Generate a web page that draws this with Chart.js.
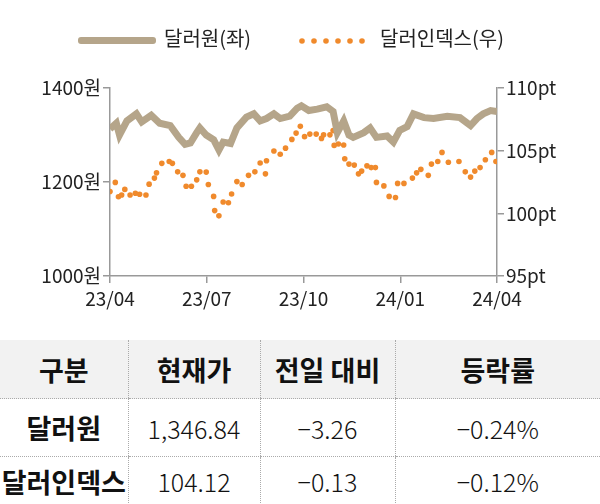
<!DOCTYPE html>
<html><head><meta charset="utf-8">
<script src="https://cdn.jsdelivr.net/npm/chart.js@4"></script>
<style>
body{margin:0;width:600px;height:504px;overflow:hidden;background:#fff;font-family:"Noto Sans CJK KR","Noto Sans",sans-serif;}
#wrap{position:absolute;left:0;top:0;width:600px;height:330px;}
#legend{position:absolute;top:21px;left:0;width:600px;height:34px;font-size:20px;color:#222;}
.li{position:absolute;top:0;line-height:34px;}
table{position:absolute;top:340px;left:0;width:600px;border-collapse:collapse;table-layout:fixed;}
td{text-align:center;border-left:1px dotted #aaa;border-bottom:1px dotted #aaa;padding:0;font-size:25px;color:#111;font-weight:300;}
td:first-child{border-left:none;font-weight:bold;font-size:27px;white-space:nowrap;}
tr.h td{background:#f2f2f2;font-weight:bold;font-size:27px;height:58px;}
tr.r1 td{height:57px;} tr.r2 td{height:48px;}
</style></head><body>
<div id="wrap"><canvas id="c" width="600" height="330"></canvas></div>
<div id="legend">
 <div class="li" style="left:78px;"><span style="display:inline-block;width:78px;height:7px;background:#b5a58a;vertical-align:middle;border-radius:3px;margin-right:8px"></span>달러원(좌)</div>
 <div class="li" style="left:298px;"><svg width="72" height="10" style="vertical-align:middle;margin-right:10px"><g fill="#f08a2c"><circle cx="4" cy="5" r="2.8"/><circle cx="16" cy="5" r="2.8"/><circle cx="28" cy="5" r="2.8"/><circle cx="40" cy="5" r="2.8"/><circle cx="52" cy="5" r="2.8"/><circle cx="64" cy="5" r="2.8"/></g></svg>달러인덱스(우)</div>
</div>
<table>
<colgroup><col style="width:128px"><col style="width:132px"><col style="width:135px"><col></colgroup>
<tr class="h"><td>구분</td><td>현재가</td><td>전일 대비</td><td>등락률</td></tr>
<tr class="r1"><td>달러원</td><td>1,346.84</td><td>−3.26</td><td>−0.24%</td></tr>
<tr class="r2"><td>달러인덱스</td><td>104.12</td><td>−0.13</td><td>−0.12%</td></tr>
</table>
<script>
const xTickLabels=["23/04","23/07","23/10","24/01","24/04"];
const wonDays=[0,6,9,16,25,30,39,47,57,65,71,76,82,85,91,98,103,107,114,120,129,136,142,148,155,161,170,177,181,188,196,205,211,215,221,226,230,240,246,252,262,268,274,281,287,297,306,319,331,341,347,353,360,366];
const wonValues=[1313,1325,1300,1330,1345,1328,1342,1325,1320,1295,1280,1283,1305,1315,1300,1290,1268,1285,1282,1315,1338,1345,1330,1335,1345,1335,1340,1357,1362,1352,1355,1360,1350,1305,1330,1300,1295,1305,1315,1295,1298,1285,1310,1318,1345,1337,1335,1340,1337,1320,1335,1345,1352,1350];
const dxyDays=[0,5,8,11,14,19,24,28,34,37,42,44,49,56,59,64,69,72,77,82,85,91,93,98,99,103,107,112,115,120,125,131,137,142,147,148,155,161,166,172,176,180,184,189,195,200,202,208,211,212,216,221,222,226,231,235,238,243,247,251,252,259,264,270,272,278,286,290,294,301,304,310,314,320,330,336,341,345,350,355,361,365];
const dxyValues=[101.74,102.47,101.32,101.46,101.91,101.46,101.60,101.52,101.46,102.33,102.81,103.23,103.99,104.13,103.99,103.31,103.03,102.16,102.16,102.67,103.31,103.29,102.30,101.35,100.22,99.80,100.90,100.84,101.54,102.53,102.30,103.03,103.31,104.02,103.15,104.19,104.97,104.72,105.20,105.90,106.40,106.94,106.12,106.32,106.32,105.98,106.26,106.26,106.60,105.42,105.53,105.45,104.35,103.93,103.85,103.15,103.37,103.79,103.65,103.65,102.47,102.19,101.35,101.26,102.39,102.39,102.81,103.23,103.51,103.03,103.93,104.13,104.86,104.07,104.13,103.31,102.89,103.37,103.65,104.27,104.86,104.13];
const F="'Noto Sans CJK KR','Noto Sans',sans-serif";
const gridCfg={drawOnChartArea:false,color:'#999',tickLength:7,lineWidth:1.5};
new Chart(document.getElementById('c'),{
 type:'line',
 data:{datasets:[
  {data:wonDays.map((d,i)=>({x:d,y:wonValues[i]})),yAxisID:'y',borderColor:'#b5a58a',borderWidth:7,pointRadius:0,tension:0},
  {data:dxyDays.map((d,i)=>({x:d,y:dxyValues[i]})),yAxisID:'y2',showLine:false,pointRadius:2.8,pointBackgroundColor:'#f08a2c',pointBorderWidth:0}
 ]},
 options:{responsive:false,animation:false,devicePixelRatio:1,
  layout:{padding:{top:88,left:0,right:0,bottom:0}},
  plugins:{legend:{display:false},tooltip:{enabled:false}},
  scales:{
   x:{type:'linear',min:0,max:366,afterBuildTicks:a=>{a.ticks=[0,91.5,183,274.5,366].map(v=>({value:v}));},
      ticks:{callback:(v,i)=>xTickLabels[i],font:{size:19,family:F},color:'#222',maxRotation:0,padding:4},
      grid:gridCfg,border:{color:'#999',width:1.5},afterFit:s=>{s.height=54;}},
   y:{position:'left',min:1000,max:1400,afterBuildTicks:a=>{a.ticks=[1000,1200,1400].map(v=>({value:v}));},
      ticks:{callback:v=>v+'원',font:{size:19,family:F},color:'#222',padding:2},
      grid:gridCfg,border:{color:'#999',width:1.5},afterFit:s=>{s.width=110;}},
   y2:{position:'right',min:95,max:110,afterBuildTicks:a=>{a.ticks=[95,100,105,110].map(v=>({value:v}));},
      ticks:{callback:v=>v+'pt',font:{size:19,family:F},color:'#222',padding:2},
      grid:gridCfg,border:{color:'#999',width:1.5},afterFit:s=>{s.width=103;}}
  }}
});
</script>
</body></html>
